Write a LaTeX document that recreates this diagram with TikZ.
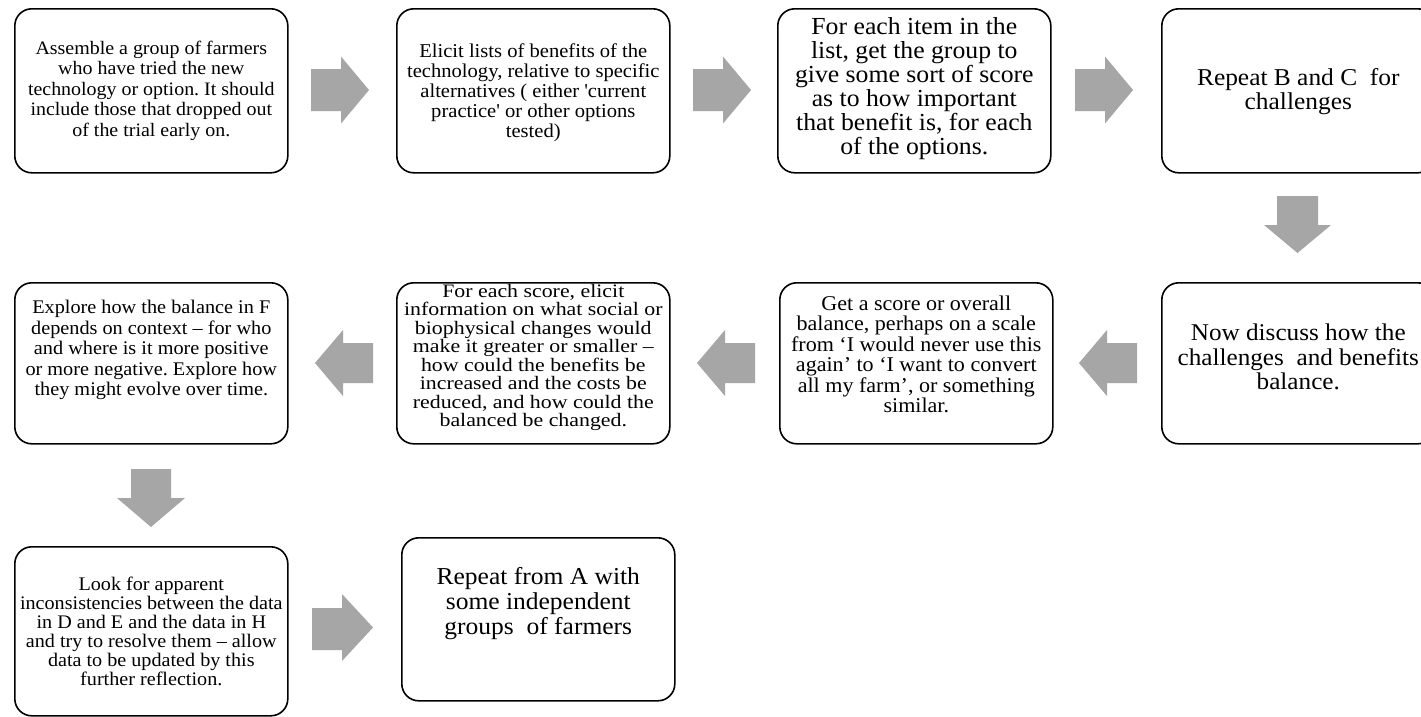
\documentclass[tikz,border=0pt]{standalone}
\usepackage{fontspec}
\setmainfont{Liberation Serif}
\newfontfamily\wideserif{Liberation Serif}[FakeStretch=1.05]
\newfontfamily\widerserif{Liberation Serif}[FakeStretch=1.15]
\lineskiplimit=-100pt
\frenchspacing
\begin{document}
\begin{tikzpicture}[x=1pt,y=-1pt,
  stepbox/.style={draw=black,line width=1.6pt,rounded corners=17pt,fill=white,
    minimum width=273pt,inner sep=0pt,anchor=north west},
  steptext/.style={align=center,inner sep=0pt},
  blockarrow/.style={fill=arrowgray,draw=none}]
\definecolor{arrowgray}{RGB}{166,166,166}
\useasboundingbox (0,0) rectangle (1421,716);
\clip (0,0) rectangle (1421,716);
\fill[white] (0,0) rectangle (1421,716);
% boxes
\node[stepbox,minimum height=164pt] (A) at (14,8) {};
\node[stepbox,minimum height=164pt] (B) at (396,8) {};
\node[stepbox,minimum height=164pt] (C) at (777,8) {};
\node[stepbox,minimum height=164pt] (D) at (1161,8) {};
\node[stepbox,minimum height=161pt] (E) at (1161,282) {};
\node[stepbox,minimum height=161pt] (F) at (779,282) {};
\node[stepbox,minimum height=161pt] (G) at (396,282) {};
\node[stepbox,minimum height=161pt] (H) at (14,282) {};
\node[stepbox,minimum height=169pt] (I) at (14,546) {};
\node[stepbox,minimum height=163pt] (J) at (401,537) {};
% texts
\node[steptext,font=\wideserif\fontsize{19}{20.5}\selectfont] (tA) at ([yshift=0pt]A.center)
  {Assemble a group of farmers\\ who have tried the new\\ technology or option. It should\\ include those that dropped out\\ of the trial early on.};
\node[steptext,font=\wideserif\fontsize{19.6}{20}\selectfont] (tB) at ([yshift=-2pt]B.center)
  {Elicit lists of benefits of the\\ technology, relative to specific\\ alternatives ( either \textquotesingle current\\ practice\textquotesingle{} or other options\\ tested)};
\node[steptext,font=\wideserif\fontsize{24.5}{24}\selectfont] (tC) at ([yshift=2pt]C.center)
  {For each item in the\\ list, get the group to\\ give some sort of score\\ as to how important\\ that benefit is, for each\\ of the options.};
\node[steptext,font=\wideserif\fontsize{24.2}{24.5}\selectfont] (tD) at ([yshift=-1pt]D.center)
  {Repeat B and C\ \ for\\ challenges};
\node[steptext,font=\wideserif\fontsize{24}{24.5}\selectfont] (tE) at ([yshift=6pt]E.center)
  {Now discuss how the\\ challenges\ \ and benefits\\ balance.};
\node[steptext,font=\wideserif\fontsize{21}{20.5}\selectfont] (tF) at ([yshift=9pt]F.center)
  {Get a score or overall\\ balance, perhaps on a scale\\ from ‘I would never use this\\ again’ to ‘I want to convert\\ all my farm’, or something\\ similar.};
\node[steptext,font=\widerserif\fontsize{19}{18.5}\selectfont] (tG) at ([yshift=6pt]G.center)
  {For each score, elicit\\ information on what social or\\ biophysical changes would\\ make it greater or smaller –\\ how could the benefits be\\ increased and the costs be\\ reduced, and how could the\\ balanced be changed.};
\node[steptext,font=\wideserif\fontsize{19.3}{20.5}\selectfont] (tH) at ([yshift=13pt]H.center)
  {Explore how the balance in F\\ depends on context – for who\\ and where is it more positive\\ or more negative. Explore how\\ they might evolve over time.};
\node[steptext,font=\wideserif\fontsize{19.2}{19}\selectfont] (tI) at ([yshift=0pt]I.center)
  {Look for apparent\\ inconsistencies between the data\\ in D and E and the data in H\\ and try to resolve them – allow\\ data to be updated by this\\ further reflection.};
\node[steptext,font=\wideserif\fontsize{24.3}{25}\selectfont] (tJ) at ([yshift=16pt]J.center)
  {Repeat from A with\\ some independent\\ groups\ \ of farmers};
% block arrows
\fill[blockarrow] (311,69) -- (341,69) -- (341,56.5) -- (369,90) -- (341,123.5) -- (341,111) -- (311,111) -- cycle;
\fill[blockarrow] (693,69) -- (723,69) -- (723,56.5) -- (751,90) -- (723,123.5) -- (723,111) -- (693,111) -- cycle;
\fill[blockarrow] (1075,69) -- (1105,69) -- (1105,56.5) -- (1133,90) -- (1105,123.5) -- (1105,111) -- (1075,111) -- cycle;
\fill[blockarrow] (1277,196) -- (1318,196) -- (1318,225) -- (1331,225) -- (1297.5,253) -- (1264,225) -- (1277,225) -- cycle;
\fill[blockarrow] (1137,343) -- (1107,343) -- (1107,330) -- (1079,363) -- (1107,396) -- (1107,383) -- (1137,383) -- cycle;
\fill[blockarrow] (755,343) -- (725,343) -- (725,330) -- (697,363) -- (725,396) -- (725,383) -- (755,383) -- cycle;
\fill[blockarrow] (373,343) -- (343,343) -- (343,330) -- (315,363) -- (343,396) -- (343,383) -- (373,383) -- cycle;
\fill[blockarrow] (131,469) -- (171,469) -- (171,498) -- (185,498) -- (151,527) -- (117,498) -- (131,498) -- cycle;
\fill[blockarrow] (312,608) -- (342,608) -- (342,594) -- (373,627.5) -- (342,661) -- (342,650) -- (312,650) -- cycle;
\end{tikzpicture}
\end{document}
